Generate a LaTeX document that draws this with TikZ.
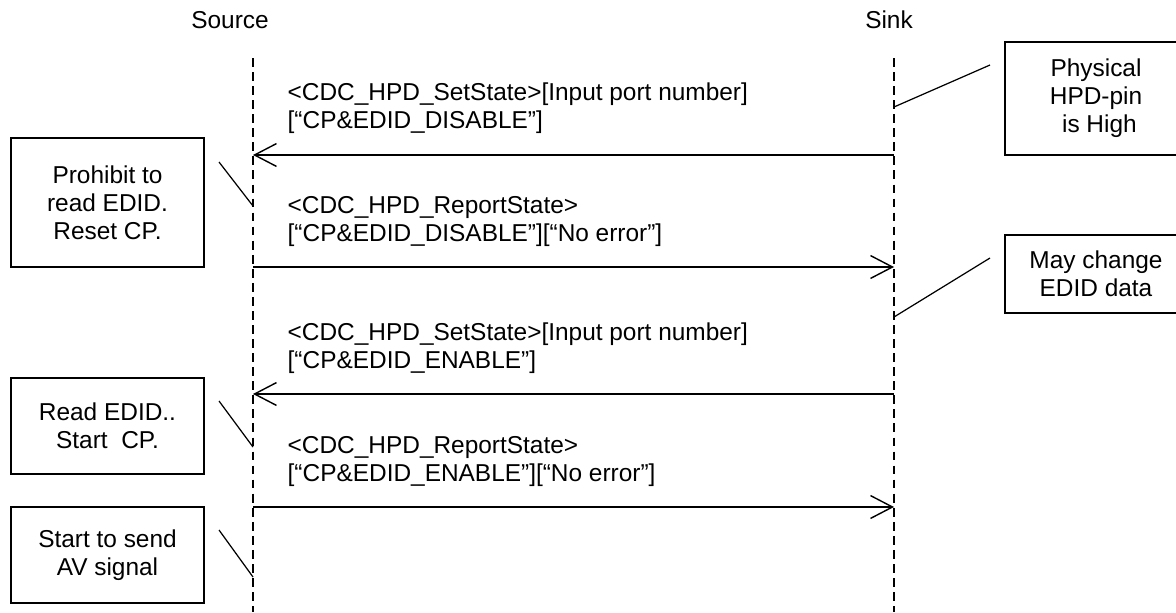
\documentclass[tikz,border=0pt]{standalone}
\usepackage{fontspec}
\setmainfont{Liberation Sans}
\usetikzlibrary{arrows.meta,positioning}
\tikzset{
  >={Straight Barb[length=12.5pt,width=13pt]},
  every picture/.style={line width=0.8pt},
  lifeline/.style={dash pattern=on 5pt off 3pt},
  msg/.style={->},
  notebox/.style={draw, align=center, inner sep=0pt, minimum width=3.86cm},
  msgtext/.style={anchor=base west, align=left, inner sep=0pt},
  pointer/.style={line width=0.7pt}
}
\begin{document}
\begin{tikzpicture}[x=0.02cm, y=-0.02cm,
    font=\fontsize{13.9pt}{15.9pt}\selectfont]
    \useasboundingbox (0,0) rectangle (1176,612);

    % lifelines
    \node (source) at (230,20) {Source};
    \node (sink) at (889,20) {Sink};
    \coordinate (srctop) at (253,58);
    \coordinate (srcbot) at (253,612);
    \coordinate (sinktop) at (894,58);
    \coordinate (sinkbot) at (894,612);
    \draw[lifeline] (srctop) -- (srcbot);
    \draw[lifeline] (sinktop) -- (sinkbot);

    % messages
    \coordinate (srcA) at (253,155);   \coordinate (sinkA) at (894,155);
    \coordinate (srcB) at (253,267);   \coordinate (sinkB) at (894,267);
    \coordinate (srcC) at (253,394);   \coordinate (sinkC) at (894,394);
    \coordinate (srcD) at (253,507);   \coordinate (sinkD) at (894,507);
    \draw[msg] (sinkA) -- (srcA);
    \draw[msg] (srcB) -- (sinkB);
    \draw[msg] (sinkC) -- (srcC);
    \draw[msg] (srcD) -- (sinkD);

    \node[msgtext] (msgA) at (287,128)
        {<CDC\_HPD\_SetState>[Input port number]\\{[}``CP\&EDID\_DISABLE'']};
    \node[msgtext] (msgB) at (287,241)
        {<CDC\_HPD\_ReportState>\\{[}``CP\&EDID\_DISABLE''][``No error'']};
    \node[msgtext] (msgC) at (287,368)
        {<CDC\_HPD\_SetState>[Input port number]\\{[}``CP\&EDID\_ENABLE'']};
    \node[msgtext] (msgD) at (287,481)
        {<CDC\_HPD\_ReportState>\\{[}``CP\&EDID\_ENABLE''][``No error'']};

    % notes
    \node[notebox, minimum height=2.58cm] (prohibit) at (107.5,202.5)
        {Prohibit to\\read EDID.\\Reset CP.};
    \node[notebox, minimum height=1.92cm] (readedid) at (107.5,426)
        {Read EDID..\\Start~~CP.};
    \node[notebox, minimum height=1.92cm] (startav) at (107.5,555)
        {Start to send\\AV signal};
    \node[notebox, minimum width=3.64cm, minimum height=2.26cm] (physical) at (1096,98.5)
        {Physical\\HPD-pin\\~is High};
    \node[notebox, minimum width=3.64cm, minimum height=1.56cm] (maychange) at (1096,274)
        {May change\\EDID data};

    \coordinate (prohibitend) at (219,162);   \coordinate (prohibitline) at (253,206);
    \coordinate (readedidend) at (219,401);   \coordinate (readedidline) at (253,447);
    \coordinate (startavend) at (219,530);    \coordinate (startavline) at (253,577);
    \coordinate (physicalend) at (990,65);    \coordinate (physicalline) at (894,107);
    \coordinate (maychangeend) at (990,258);  \coordinate (maychangeline) at (894,317);
    \draw[pointer] (prohibitend) -- (prohibitline);
    \draw[pointer] (readedidend) -- (readedidline);
    \draw[pointer] (startavend) -- (startavline);
    \draw[pointer] (physicalend) -- (physicalline);
    \draw[pointer] (maychangeend) -- (maychangeline);
\end{tikzpicture}
\end{document}
